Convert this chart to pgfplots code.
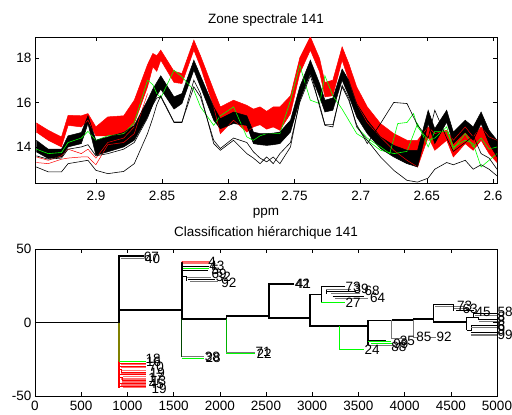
\documentclass[border=0pt]{standalone}
\usepackage{pgfplots}
\pgfplotsset{compat=1.18}
\usepackage{pgfplotstable}
\usepgfplotslibrary{fillbetween}
\usepackage{fontspec}
\setmainfont{Liberation Sans}
\definecolor{mred}{RGB}{255,0,0}
\definecolor{mgreen}{RGB}{0,255,0}
\definecolor{olivec}{RGB}{128,128,0}
\definecolor{dkg}{RGB}{0,70,0}
\definecolor{pinkc}{RGB}{255,110,110}
\definecolor{grc}{RGB}{120,120,120}

\pgfplotstableread{
x      rt     rb     kt     kb     ka     kb2    g
2.945 15.08 14.67 14.30 13.78 13.10 13.60 13.90
2.936 14.75 14.30 13.90 13.48 12.88 13.45 13.70
2.926 14.45 14.00 13.90 13.55 12.88 13.50 13.75
2.921 15.42 14.97 14.50 14.00 13.25 13.90 14.20
2.911 15.40 14.90 14.65 14.15 13.35 14.00 14.40
2.906 15.50 15.20 15.40 15.05 13.40 14.10 14.70
2.900 14.90 14.50 14.30 13.63 12.95 13.60 14.30
2.891 15.35 14.50 14.45 13.78 12.80 13.70 14.50
2.879 15.40 14.60 14.65 14.00 12.90 13.90 14.60
2.871 16.10 15.05 14.97 14.30 13.25 14.20 15.10
2.861 17.70 16.70 16.10 15.35 14.60 15.30 17.00
2.857 18.20 17.60 16.60 15.90 15.30 15.90 16.80
2.854 18.10 17.40 16.90 16.30 15.90 16.20 16.40
2.851 18.35 17.90 17.20 16.60 16.30 16.25 16.20
2.841 17.40 16.90 16.25 15.70 15.12 15.10 17.45
2.835 17.30 16.85 16.40 15.95 15.12 15.10 17.15
2.826 18.80 18.35 17.90 17.45 16.70 17.00 16.55
2.821 18.10 17.60 17.20 16.70 16.25 16.40 15.80
2.811 16.55 15.80 15.80 15.20 14.30 14.15 14.97
2.806 15.80 14.60 15.27 14.82 13.93 13.85 15.40
2.796 16.10 15.20 15.57 15.05 14.40 14.30 15.80
2.786 15.87 14.67 15.40 14.97 14.20 13.70 14.45
2.781 15.70 14.90 14.67 14.15 13.78 13.50 14.30
2.776 15.80 15.00 14.60 14.10 13.50 13.25 14.50
2.771 15.60 14.80 14.60 14.07 13.33 13.55 14.60
2.766 15.80 14.90 14.62 14.10 13.55 13.25 14.60
2.761 15.80 14.75 14.67 14.15 13.25 13.70 14.60
2.753 16.30 15.50 15.20 14.67 14.00 14.20 16.10
2.746 18.00 17.30 16.70 16.10 16.10 16.00 17.67
2.738 18.95 18.35 17.90 17.30 17.45 17.20 16.10
2.731 17.97 17.37 16.85 16.25 15.80 15.90 15.95
2.727 16.90 16.25 16.10 15.57 14.97 15.00 17.20
2.721 17.00 16.30 16.20 15.65 14.90 15.00 16.30
2.714 18.50 17.90 17.50 17.00 16.77 16.70 15.70
2.709 17.75 17.00 17.00 16.30 16.20 16.10 15.20
2.703 16.70 15.95 15.95 15.35 14.90 15.00 14.60
2.695 15.80 15.10 15.20 14.60 14.30 14.15 14.30
2.685 15.05 14.45 14.45 13.93 13.55 15.05 13.85
2.675 14.60 13.85 14.07 13.55 12.95 16.00 13.70
2.665 14.30 13.40 13.85 13.25 12.50 15.95 13.80
2.657 14.30 13.10 13.85 13.10 12.42 14.97 15.05
2.649 14.90 14.45 15.65 15.05 12.60 14.40 14.00
2.644 14.60 13.85 14.82 14.15 13.00 15.65 14.70
2.635 14.75 14.30 15.65 15.12 13.30 14.40 14.70
2.630 14.30 13.55 14.67 14.15 13.20 13.80 14.00
2.621 14.90 14.15 15.20 14.67 13.40 14.20 14.30
2.615 14.45 13.85 14.90 14.30 13.00 14.50 14.15
2.609 14.90 14.30 15.57 15.05 13.20 13.70 13.10
2.603 14.45 13.70 14.75 14.15 13.00 13.50 13.40
2.597 14.30 13.30 14.30 13.55 12.70 13.00 13.70
}\spec

\begin{document}
\begin{tikzpicture}[font=\fontsize{13.5bp}{16bp}\selectfont,
  bk/.style={black, line width=1.8bp},
  tn/.style={black, line width=0.8bp},
  gy/.style={grc, line width=1.2bp},
  lb/.style={anchor=west, inner sep=0.5bp}]
\pgfplotsset{every axis/.append style={
  scale only axis, tick align=inside, major tick length=4bp,
  /pgf/number format/assume math mode=true,
  /pgf/number format/1000 sep={},
  axis line style={line width=0.6bp},
  every tick/.style={line width=0.5bp, black},
  title style={at={(0.5,1)}, anchor=south, yshift=1bp},
}}
% ---------------- top spectra ----------------
\begin{axis}[at={(35bp,-183bp)}, anchor=south west, width=462bp, height=146bp,
  x dir=reverse, xmin=2.597, xmax=2.946, ymin=12.38, ymax=18.94,
  xtick={2.6,2.65,2.7,2.75,2.8,2.85,2.9},
  xticklabels={2.6,2.65,2.7,2.75,2.8,2.85,2.9},
  ytick={14,16,18},
  xticklabel style={yshift=-5bp},
  title={Zone spectrale 141}, xlabel={ppm},
  xlabel style={yshift=0bp}]
\addplot[mred, line width=0.5bp, name path=RT] table[x=x,y=rt]{\spec};
\addplot[mred, line width=0.5bp, name path=RB] table[x=x,y=rb]{\spec};
\addplot[mred] fill between[of=RT and RB];
\addplot[mred, line width=0.5bp] coordinates {(2.945,13.30)(2.936,13.25)(2.926,13.45)(2.921,13.50)(2.911,13.55)(2.906,13.55)(2.900,13.20)(2.891,14.10)(2.879,14.20)(2.871,14.60)(2.861,16.40)};
\addplot[mred, line width=0.5bp] coordinates {(2.945,13.55)(2.936,13.40)(2.926,13.60)(2.921,13.90)(2.911,13.70)(2.906,13.90)(2.900,13.50)(2.891,14.20)(2.879,14.40)(2.871,14.90)};
\addplot[mgreen, line width=0.6bp] table[x=x,y=g]{\spec};
\addplot[mgreen, line width=0.6bp] coordinates {(2.703,14.9)(2.695,14.4)(2.685,14.0)(2.678,13.7)(2.672,15.05)(2.665,15.1)(2.660,15.5)(2.657,14.9)(2.649,14.3)(2.644,14.4)(2.635,14.9)(2.630,13.9)(2.621,14.6)(2.615,14.0)(2.609,14.4)(2.603,13.9)(2.597,14.0)};
\addplot[black, line width=0.5bp, name path=KT] table[x=x,y=kt]{\spec};
\addplot[black, line width=0.5bp, name path=KB] table[x=x,y=kb]{\spec};
\addplot[black] fill between[of=KT and KB];
\addplot[black, line width=0.6bp] table[x=x,y=ka]{\spec};
\addplot[black, line width=0.6bp] table[x=x,y=kb2]{\spec};
\end{axis}
% ---------------- bottom dendrogram ----------------
\begin{axis}[at={(35bp,-396bp)}, anchor=south west, width=462bp, height=147bp,
  xmin=0, xmax=5000, ymin=-50, ymax=50,
  xtick={0,500,1000,1500,2000,2500,3000,3500,4000,4500,5000},
  ytick={-50,0,50}, clip=false, unbounded coords=jump,
  xticklabel style={yshift=-2bp},
  title style={yshift=-1bp},
  title={Classification hiérarchique 141}]
% backbone
\addplot[bk] coordinates {(0,0)(910,0)};
\addplot[bk] coordinates {(1180,45.5)(910,45.5)(910,0)};
\addplot[olivec, line width=1.2bp] coordinates {(910,0)(910,-26.5)};
\addplot[bk] coordinates {(910,8.6)(1587,8.6)};
\addplot[bk] coordinates {(1587,41)(1587,2.2)};
\addplot[dkg, line width=1.2bp] coordinates {(1587,2.2)(1587,-23.5)};
\addplot[bk] coordinates {(1587,2.2)(2070,2.2)};
\addplot[tn] coordinates {(2070,4.3)(2070,2.2)};
\addplot[mgreen!70!black, line width=0.8bp] coordinates {(2070,2.2)(2070,-21)};
\addplot[bk] coordinates {(2070,4.3)(2530,4.3)};
\addplot[bk] coordinates {(2806,26.3)(2530,26.3)(2530,3)(2975,3)};
\addplot[bk] coordinates {(3095,19)(2975,19)(2975,-2.6)(3600,-2.6)};
\addplot[mgreen, line width=0.8bp] coordinates {(3290,-2.6)(3290,-18.5)(3560,-18.5)};
\addplot[bk] coordinates {(3600,-15)(3600,1.4)(3860,1.4)};
\addplot[gy] coordinates {(3860,1.4)(3860,-11)(4000,-11)};
\addplot[bk] coordinates {(3860,1.8)(4094,1.8)};
\addplot[gy] coordinates {(4094,1.8)(4094,-10)(4130,-10) (nan,nan) (4270,-10)(4340,-10)};
\addplot[bk] coordinates {(4094,2.2)(4310,2.2)};
\addplot[tn] coordinates {(4530,12.2)(4310,12.2)(4310,0.5)};
\addplot[bk] coordinates {(4310,0.5)(4671,0.5)};
\addplot[tn] coordinates {(4671,3.5)(4671,-5.4)};
% cluster 67/40
\addplot[gy] coordinates {(930,43.3)(1180,43.3)};
% red cluster
\addplot[mred, line width=1.2bp] coordinates {(910,-26.5)(910,-44.5)};
\addplot[mgreen, line width=0.8bp] coordinates {(910,-26.5)(1200,-26.5)};
\addplot[pinkc, line width=1.6bp] coordinates {
(930,-28.6)(1200,-28.6) (nan,nan) (930,-30.6)(1200,-30.6) (nan,nan)
(940,-32.6)(1200,-32.6) (nan,nan) (930,-34.6)(1200,-34.6) (nan,nan)
(950,-36.6)(1200,-36.6) (nan,nan) (930,-38.6)(1200,-38.6) (nan,nan)
(940,-40.6)(1200,-40.6) (nan,nan) (930,-42.6)(1200,-42.6) (nan,nan)
(950,-44.3)(1200,-44.3)};
\addplot[mred, line width=0.7bp] coordinates {
(910,-27.6)(1200,-27.6) (nan,nan) (910,-29.6)(1200,-29.6) (nan,nan)
(910,-31.6)(930,-31.6)(930,-33.6)(1200,-33.6) (nan,nan) (910,-35.6)(1200,-35.6) (nan,nan)
(910,-37.6)(940,-37.6)(940,-39.6)(1200,-39.6) (nan,nan) (910,-41.6)(1200,-41.6) (nan,nan)
(910,-43.6)(1200,-43.6)};
% cluster at 1587 (top)
\addplot[pinkc, line width=2bp] coordinates {(1600,40.2)(1890,40.2)};
\addplot[mred, line width=0.7bp] coordinates {(1587,41)(1600,41.6)(1890,41.6)};
\addplot[tn] coordinates {(1587,38.4)(1880,38.4)};
\addplot[mgreen, line width=0.8bp] coordinates {(1600,36.9)(1880,36.9)};
\addplot[tn] coordinates {(1587,35.3)(1870,35.3)};
\addplot[tn] coordinates {(1587,31.5)(1640,31.5)(1640,28)};
\addplot[gy] coordinates {(1640,30.5)(1900,30.5)};
\addplot[tn] coordinates {(1660,29.3)(1950,29.3)};
\addplot[gy] coordinates {(1680,28)(1980,28)};
% leaves 38 and 71
\addplot[gy] coordinates {(1587,-23)(1832,-23)};
\addplot[mgreen, line width=0.8bp] coordinates {(1587,-24.2)(1832,-24.2)};
\addplot[gy] coordinates {(2070,-20.3)(2380,-20.3)};
\addplot[mgreen, line width=0.8bp] coordinates {(2070,-21.3)(2380,-21.3)};
% cluster 3095
\addplot[tn] coordinates {(3354,24.5)(3095,24.5)(3095,13.5)};
\addplot[tn] coordinates {(3150,22.5)(3150,19.5)};
\addplot[gy] coordinates {(3150,22.5)(3420,22.5)};
\addplot[tn] coordinates {(3150,21)(3470,21)};
\addplot[gy] coordinates {(3200,19.5)(3520,19.5)};
\addplot[tn] coordinates {(3220,18)(3560,18)};
\addplot[gy] coordinates {(3250,16.5)(3600,16.5)};
\addplot[mgreen, line width=0.8bp] coordinates {(3095,13.5)(3354,13.5)};
% cluster 3600 lower
\addplot[tn] coordinates {(3620,-12)(3800,-12)};
\addplot[mgreen, line width=0.8bp] coordinates {(3600,-13)(3850,-13)};
\addplot[mgreen, line width=0.8bp] coordinates {(3640,-14.5)(3870,-14.5)};
\addplot[gy] coordinates {(3600,-15.5)(3900,-15.5)};
% cluster 4310 upper
\addplot[gy] coordinates {(4330,11)(4650,11)};
\addplot[tn] coordinates {(4530,12.2)(4530,8)};
\addplot[gy] coordinates {(4530,9.3)(4700,9.3)};
\addplot[tn] coordinates {(4560,8)(4750,8)};
% cluster 4671
\addplot[tn] coordinates {(4671,3.5)(4740,3.5)(4740,6.5)(5000,6.5)};
\addplot[gy] coordinates {(4760,5)(5000,5)};
\addplot[tn] coordinates {(4740,3.5)(4800,3.5)(4800,2)(5000,2)};
\addplot[gy] coordinates {(4800,0.5)(5000,0.5)};
\addplot[tn] coordinates {(4671,-5.4)(4720,-5.4)(4720,-2)(5000,-2)};
\addplot[gy] coordinates {(4720,-3.5)(5000,-3.5)};
\addplot[tn] coordinates {(4720,-7)(5000,-7)};
\addplot[gy] coordinates {(4720,-8.5)(5000,-8.5)};
% labels
\node[lb] at (axis cs:1170,45) {67};
\node[lb] at (axis cs:1185,43) {40};
\node[lb] at (axis cs:1190,-24.5) {18};
\node[lb] at (axis cs:1195,-27) {16};
\node[lb] at (axis cs:1225,-30.5) {70};
\node[lb] at (axis cs:1235,-34) {19};
\node[lb] at (axis cs:1220,-37.5) {17};
\node[lb] at (axis cs:1250,-40) {13};
\node[lb] at (axis cs:1225,-42) {45};
\node[lb] at (axis cs:1255,-45) {19};
\node[lb] at (axis cs:1870,41) {4};
\node[lb] at (axis cs:1880,38.3) {43};
\node[lb] at (axis cs:1900,35.5) {5};
\node[lb] at (axis cs:1905,33) {69};
\node[lb] at (axis cs:1950,31) {32};
\node[lb] at (axis cs:2010,27) {92};
\node[lb] at (axis cs:1832,-23.3) {38};
\node[lb] at (axis cs:1840,-23.8) {28};
\node[lb] at (axis cs:2380,-20.3) {71};
\node[lb] at (axis cs:2390,-21) {22};
\node[lb] at (axis cs:2806,26.3) {42};
\node[lb] at (axis cs:2815,26) {41};
\node[lb] at (axis cs:3354,24) {73};
\node[lb] at (axis cs:3440,23.2) {39};
\node[lb] at (axis cs:3560,21.5) {68};
\node[lb] at (axis cs:3354,13.5) {27};
\node[lb] at (axis cs:3620,17) {64};
\node[lb] at (axis cs:3560,-18.5) {24};
\node[lb] at (axis cs:3850,-16.5) {88};
\node[lb] at (axis cs:3870,-14.5) {99};
\node[lb] at (axis cs:3940,-12.5) {35};
\node[lb] at (axis cs:4120,-10) {85};
\node[lb] at (axis cs:4340,-10) {92};
\node[lb] at (axis cs:4560,11.5) {73};
\node[lb] at (axis cs:4620,9.5) {63};
\node[lb] at (axis cs:4760,7.5) {45};
\node[lb] at (axis cs:5000,7) {58};
\node[lb] at (axis cs:5000,4) {8};
\node[lb] at (axis cs:5000,1) {8};
\node[lb] at (axis cs:5000,-2) {6};
\node[lb] at (axis cs:5000,-5) {9};
\node[lb] at (axis cs:5000,-8.5) {99};
\end{axis}
\pgfresetboundingbox
\path[use as bounding box] (0,0) rectangle (512bp,-415bp);
\end{tikzpicture}
\end{document}
